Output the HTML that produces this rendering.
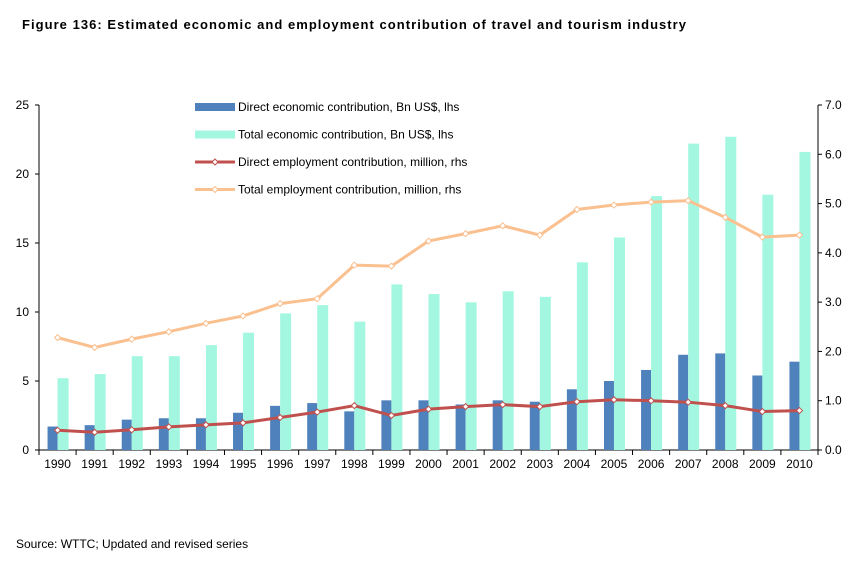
<!DOCTYPE html>
<html><head><meta charset="utf-8"><style>
body{margin:0;background:#fff;width:856px;height:565px;overflow:hidden}
svg{display:block;font-family:"Liberation Sans",Arial,sans-serif}
</style></head><body>
<svg id="s" width="856" height="565" xmlns="http://www.w3.org/2000/svg"></svg>
<script>
const s=document.getElementById('s');
let h='';
h+='<text x="22" y="29" font-size="13" font-weight="bold" fill="#000" textLength="664" lengthAdjust="spacing">Figure 136: Estimated economic and employment contribution of travel and tourism industry</text>';
h+='<text x="16" y="548" font-size="12" fill="#000">Source: WTTC; Updated and revised series</text>';
const x0=39,x1=818,y0=450,yT=105,n=21,cw=(x1-x0)/n;
const yl=v=>y0-v*(y0-yT)/25, yr=v=>y0-v*(y0-yT)/7;
const d=[1.7,1.8,2.2,2.3,2.3,2.7,3.2,3.4,2.8,3.6,3.6,3.3,3.6,3.5,4.4,5.0,5.8,6.9,7.0,5.4,6.4];
const t=[5.2,5.5,6.8,6.8,7.6,8.5,9.9,10.5,9.3,12.0,11.3,10.7,11.5,11.1,13.6,15.4,18.4,22.2,22.7,18.5,21.6];
const de=[0.40,0.36,0.41,0.47,0.51,0.55,0.66,0.77,0.90,0.70,0.83,0.88,0.92,0.88,0.98,1.02,1.00,0.97,0.90,0.78,0.80];
const te=[2.28,2.08,2.25,2.40,2.57,2.72,2.97,3.07,3.75,3.73,4.24,4.39,4.55,4.36,4.88,4.97,5.03,5.06,4.72,4.32,4.36];
h+=`<line x1="${x0}" y1="${yT}" x2="${x0}" y2="${y0}" stroke="#000"/>`;
h+=`<line x1="${x1}" y1="${yT}" x2="${x1}" y2="${y0}" stroke="#000"/>`;
h+=`<line x1="${x0}" y1="${y0}" x2="${x1}" y2="${y0}" stroke="#000"/>`;
for(let v=0;v<=25;v+=5){const y=yl(v);h+=`<line x1="${x0-4}" y1="${y}" x2="${x0}" y2="${y}" stroke="#000"/><text x="${x0-10}" y="${y+4}" font-size="12" text-anchor="end">${v}</text>`;}
for(let v=0;v<=7;v++){const y=yr(v);h+=`<line x1="${x1}" y1="${y}" x2="${x1+4}" y2="${y}" stroke="#000"/><text x="${x1+7}" y="${y+4}" font-size="12">${v.toFixed(1)}</text>`;}
for(let i=0;i<=n;i++){const x=x0+i*cw;h+=`<line x1="${x}" y1="${y0}" x2="${x}" y2="${y0+5}" stroke="#000"/>`;}
for(let i=0;i<n;i++){const c=x0+(i+.5)*cw;
h+=`<rect x="${c-10}" y="${yl(d[i])}" width="10" height="${y0-yl(d[i])}" fill="#4f81bd"/>`;
h+=`<rect x="${c}" y="${yl(t[i])}" width="11" height="${y0-yl(t[i])}" fill="#a3f7e0"/>`;
h+=`<text x="${c}" y="${y0+18}" font-size="12" text-anchor="middle">${1990+i}</text>`;}
function line(a,col){let p=a.map((v,i)=>`${x0+(i+.5)*cw},${yr(v)}`).join(' ');
h+=`<polyline points="${p}" fill="none" stroke="${col}" stroke-width="3"/>`;
a.forEach((v,i)=>{const x=x0+(i+.5)*cw,y=yr(v);h+=`<polygon points="${x-3},${y} ${x},${y-3} ${x+3},${y} ${x},${y+3}" fill="#fff" stroke="${col}" stroke-width="1"/>`;});}
line(te,'#fac090');line(de,'#c0504d');
const L=[['Direct economic contribution, Bn US$, lhs','b','#4f81bd'],['Total economic contribution, Bn US$, lhs','b','#a3f7e0'],['Direct employment contribution, million, rhs','l','#c0504d'],['Total employment contribution, million, rhs','l','#fac090']];
L.forEach((l,i)=>{const y=107+i*27.5;
if(l[1]=='b')h+=`<rect x="195" y="${y-4}" width="40" height="8" fill="${l[2]}"/>`;
else h+=`<line x1="195" y1="${y}" x2="235" y2="${y}" stroke="${l[2]}" stroke-width="3"/><polygon points="212,${y} 215,${y-3} 218,${y} 215,${y+3}" fill="#fff" stroke="${l[2]}"/>`;
h+=`<text x="238" y="${y+4}" font-size="12">${l[0]}</text>`;});
s.innerHTML=h;
</script>
</body></html>
